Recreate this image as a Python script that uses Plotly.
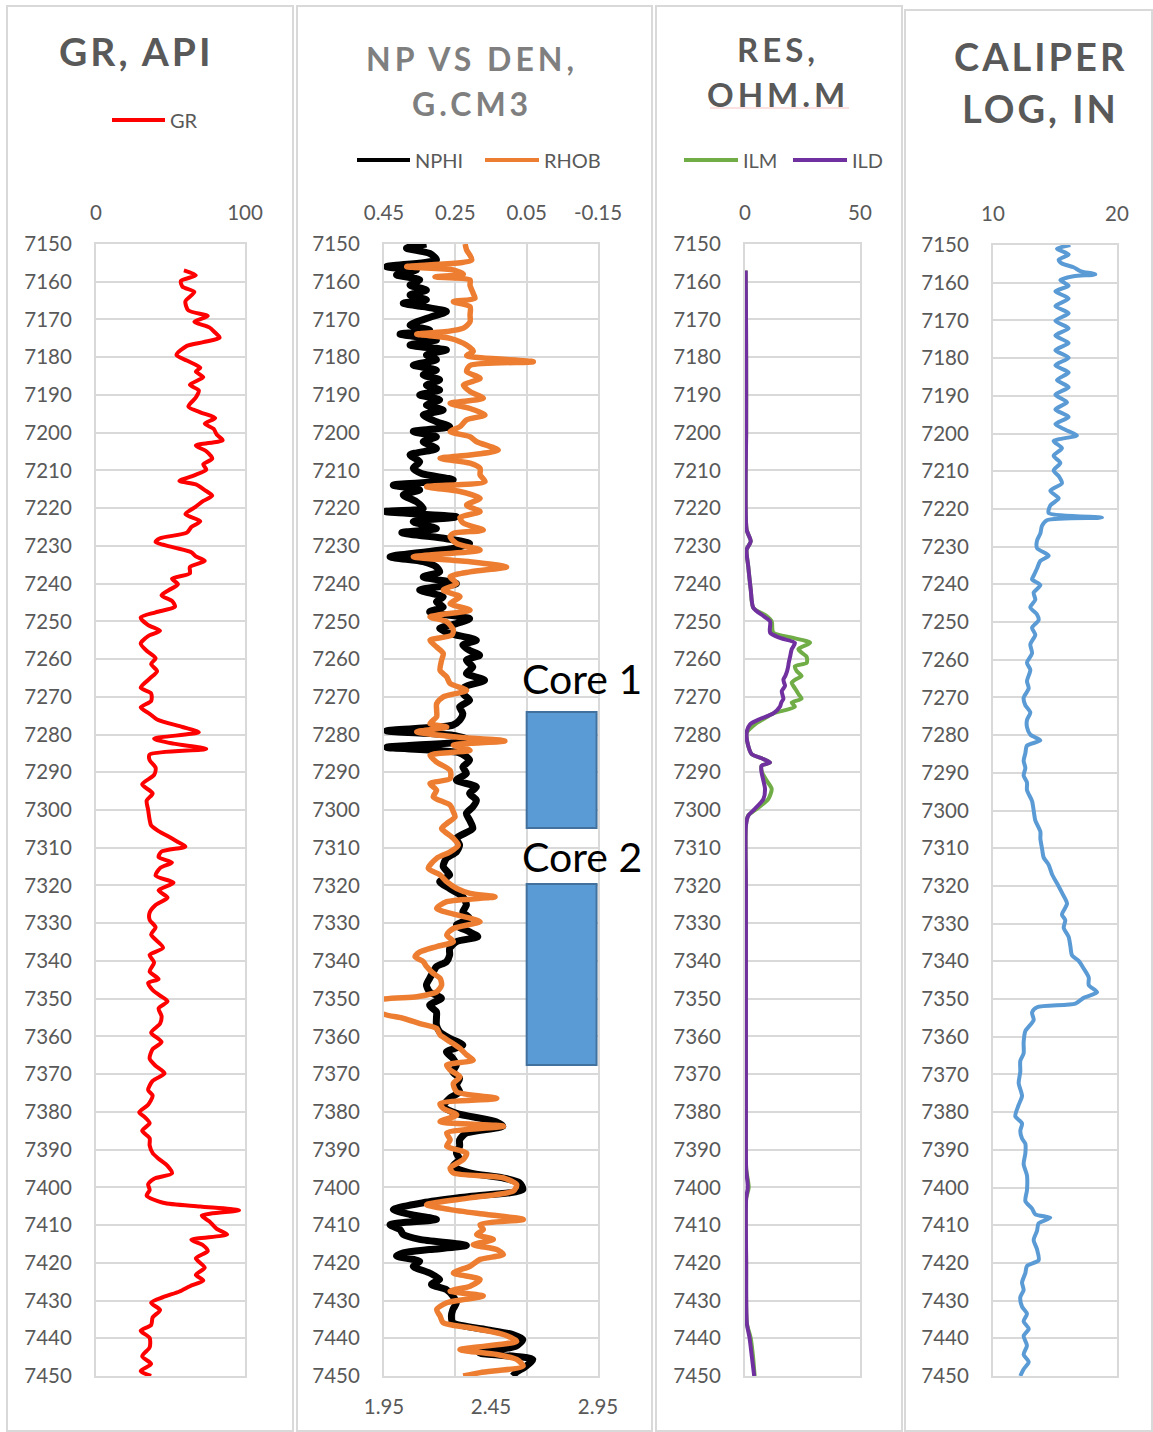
import plotly.graph_objects as go

# ---------------- log data: (depth ft, value) ----------------
gr_log = [
    (7157.0, 59), (7158.3, 67), (7159.8, 57), (7161.3, 58), (7162.7, 66), (7165.2, 60), (7167.6, 62),
    (7169.1, 75), (7170.6, 66), (7172.1, 76), (7173.5, 80), (7174.8, 83), (7176.0, 72), (7177.0, 61),
    (7179.4, 54), (7180.9, 61), (7182.8, 70), (7183.8, 67), (7185.3, 72), (7187.3, 63), (7188.8, 69),
    (7190.7, 67), (7193.1, 62), (7194.6, 70), (7196.1, 80), (7197.6, 73), (7199.0, 79), (7200.5, 81),
    (7202.0, 85), (7203.4, 67), (7204.9, 74), (7206.9, 78), (7208.4, 72), (7209.8, 74), (7211.3, 66),
    (7212.8, 56), (7213.7, 67), (7215.2, 73), (7216.7, 78), (7218.1, 72), (7219.6, 67), (7221.6, 60),
    (7223.5, 70), (7225.0, 64), (7226.5, 61), (7228.0, 43), (7229.0, 40), (7230.4, 52), (7231.7, 64),
    (7232.8, 67), (7234.0, 73), (7235.6, 63), (7237.3, 63), (7238.7, 51), (7240.2, 55), (7241.7, 49),
    (7243.1, 44), (7244.6, 51), (7246.1, 53), (7247.6, 40), (7249.0, 30), (7251.0, 35), (7252.5, 43),
    (7253.9, 35), (7255.9, 30), (7257.8, 34), (7259.8, 40), (7261.3, 37), (7263.2, 41), (7265.2, 36),
    (7267.6, 30), (7269.1, 37), (7271.1, 37), (7272.8, 30), (7274.5, 36), (7276.0, 41), (7278.0, 58),
    (7279.4, 69), (7281.1, 39), (7282.4, 52), (7283.8, 74), (7285.3, 36), (7286.8, 36), (7288.8, 40),
    (7290.7, 39), (7293.2, 31), (7295.6, 38), (7297.5, 34), (7300.0, 35),
    (7302.6, 36), (7304.1, 37), (7305.6, 42), (7307.1, 49), (7308.5, 55), (7309.7, 60), (7311.0, 44),
    (7312.5, 42), (7313.9, 51), (7315.4, 43), (7317.4, 40), (7319.3, 52), (7321.3, 42), (7323.2, 48),
    (7325.2, 40), (7327.2, 36), (7329.1, 36), (7331.1, 40), (7333.0, 37), (7336.5, 45), (7338.4, 36),
    (7340.4, 39), (7342.8, 36), (7344.8, 42), (7345.8, 35), (7347.7, 38), (7349.2, 43), (7350.7, 48),
    (7352.6, 42), (7354.6, 44), (7356.6, 43), (7359.0, 37), (7361.5, 44), (7363.4, 38), (7365.9, 36),
    (7367.8, 40), (7369.8, 46), (7371.8, 38), (7374.2, 35), (7375.7, 38), (7378.1, 35), (7380.1, 29),
    (7381.5, 33), (7383.0, 36), (7385.0, 31), (7387.0, 36), (7388.9, 36), (7390.9, 38), (7392.4, 42),
    (7394.3, 48), (7396.3, 51), (7397.7, 39), (7399.2, 35), (7400.7, 36), (7402.2, 34), (7404.1, 45),
    (7405.1, 70), (7406.1, 96), (7407.5, 71), (7409.0, 76), (7411.0, 81), (7412.5, 88), (7413.9, 64),
    (7415.4, 72), (7416.9, 75), (7418.8, 67), (7421.3, 73), (7423.2, 67), (7424.7, 72), (7426.2, 63),
    (7427.6, 56), (7429.1, 45), (7430.6, 37), (7432.5, 43), (7434.5, 38), (7436.5, 37), (7438.0, 30),
    (7439.9, 36), (7442.4, 36), (7444.8, 31), (7446.8, 37), (7448.7, 30), (7450.0, 37),
]

nphi_log = [
    (7150.0, 0.331), (7151.1, 0.387), (7152.5, 0.322), (7154.2, 0.303), (7156.0, 0.443), (7156.9, 0.359),
    (7158.2, 0.415), (7159.5, 0.350), (7160.9, 0.377), (7162.2, 0.331), (7163.5, 0.377), (7164.8, 0.331),
    (7165.7, 0.396), (7166.6, 0.340), (7167.9, 0.275), (7169.3, 0.317), (7171.5, 0.377), (7172.8, 0.322),
    (7173.9, 0.405), (7175.4, 0.303), (7176.8, 0.377), (7178.1, 0.275), (7179.4, 0.331), (7180.7, 0.303),
    (7182.1, 0.368), (7183.4, 0.303), (7184.7, 0.340), (7186.0, 0.294), (7187.4, 0.331), (7188.7, 0.294),
    (7190.0, 0.350), (7191.3, 0.294), (7192.7, 0.331), (7194.0, 0.284), (7195.3, 0.340), (7197.1, 0.303),
    (7198.4, 0.266), (7199.7, 0.368), (7201.1, 0.303), (7202.4, 0.340), (7204.2, 0.303), (7205.9, 0.377),
    (7207.7, 0.350), (7209.4, 0.368), (7210.8, 0.345), (7212.5, 0.256), (7213.9, 0.424), (7215.2, 0.350),
    (7216.5, 0.396), (7218.3, 0.359), (7220.1, 0.340), (7220.9, 0.447), (7222.3, 0.247), (7223.6, 0.368),
    (7225.4, 0.303), (7226.5, 0.400), (7228.1, 0.275), (7229.4, 0.210), (7230.7, 0.257), (7232.9, 0.433),
    (7234.2, 0.340), (7235.6, 0.303), (7236.9, 0.294), (7238.2, 0.340), (7240.0, 0.247), (7241.7, 0.350),
    (7243.5, 0.284), (7244.8, 0.303), (7246.2, 0.284), (7247.5, 0.322), (7249.3, 0.210), (7250.6, 0.247),
    (7251.9, 0.294), (7253.2, 0.266), (7255.0, 0.191), (7256.3, 0.229), (7257.7, 0.210), (7259.0, 0.182),
    (7260.3, 0.219), (7262.1, 0.201), (7263.8, 0.219), (7265.6, 0.168), (7267.4, 0.224), (7269.1, 0.229),
    (7270.9, 0.210), (7272.7, 0.238), (7274.4, 0.229), (7276.2, 0.238), (7277.5, 0.257), (7279.0, 0.443),
    (7280.3, 0.250), (7281.6, 0.210), (7283.4, 0.443), (7284.8, 0.240), (7286.8, 0.210), (7288.6, 0.229),
    (7290.3, 0.219), (7292.1, 0.247), (7293.9, 0.191), (7295.6, 0.210), (7297.4, 0.191), (7299.2, 0.201),
    (7300.9, 0.219), (7302.7, 0.210), (7304.9, 0.201), (7307.5, 0.247), (7309.3, 0.238), (7311.1, 0.247),
    (7312.8, 0.275), (7315.0, 0.284), (7317.2, 0.266), (7319.0, 0.294), (7320.8, 0.266), (7323.0, 0.229),
    (7325.2, 0.219), (7327.0, 0.229), (7328.7, 0.210), (7330.5, 0.247), (7332.3, 0.210), (7333.6, 0.187),
    (7334.9, 0.247), (7336.7, 0.266), (7338.4, 0.266), (7340.2, 0.275), (7341.5, 0.303), (7342.9, 0.312),
    (7344.6, 0.322), (7346.4, 0.331), (7348.2, 0.322), (7349.9, 0.289), (7351.7, 0.322), (7353.5, 0.303),
    (7355.2, 0.303), (7357.0, 0.303), (7358.8, 0.294), (7360.5, 0.266), (7362.3, 0.229), (7364.1, 0.275),
    (7365.8, 0.257), (7367.6, 0.247), (7369.4, 0.257), (7371.1, 0.238), (7372.9, 0.247), (7374.7, 0.238),
    (7376.4, 0.266), (7378.6, 0.284), (7380.4, 0.247), (7382.6, 0.136), (7383.8, 0.117), (7385.6, 0.219),
    (7387.4, 0.238), (7389.1, 0.238), (7390.9, 0.247), (7392.6, 0.238), (7394.4, 0.257), (7396.2, 0.210),
    (7397.5, 0.117), (7398.8, 0.070), (7400.6, 0.061), (7402.4, 0.210), (7404.1, 0.340), (7405.9, 0.424),
    (7407.2, 0.377), (7408.5, 0.303), (7409.9, 0.433), (7411.2, 0.405), (7412.5, 0.396), (7413.8, 0.350),
    (7415.4, 0.219), (7416.5, 0.322), (7417.4, 0.396), (7418.2, 0.415), (7419.6, 0.350), (7420.9, 0.368),
    (7422.7, 0.322), (7424.4, 0.294), (7425.7, 0.317), (7427.1, 0.275), (7428.8, 0.257), (7430.6, 0.247),
    (7432.4, 0.257), (7434.1, 0.261), (7435.9, 0.257), (7437.7, 0.163), (7439.0, 0.089), (7440.3, 0.061),
    (7442.1, 0.080), (7443.9, 0.182), (7445.6, 0.033), (7447.4, 0.052), (7449.1, 0.080), (7450.0, 0.089),
]

rhob_log = [
    (7150.0, 2.329), (7151.6, 2.336), (7154.2, 2.360), (7156.0, 2.056), (7156.9, 2.274), (7158.0, 2.321),
    (7158.7, 2.188), (7159.5, 2.352), (7160.9, 2.352), (7163.1, 2.367), (7164.4, 2.375), (7165.3, 2.274),
    (7166.6, 2.352), (7168.8, 2.352), (7170.6, 2.352), (7172.3, 2.321), (7173.2, 2.243), (7173.9, 2.103),
    (7175.0, 2.259), (7176.8, 2.336), (7178.5, 2.367), (7179.6, 2.336), (7181.2, 2.648), (7182.2, 2.352),
    (7183.8, 2.336), (7185.6, 2.399), (7187.4, 2.321), (7189.1, 2.352), (7190.9, 2.414), (7192.2, 2.259),
    (7193.6, 2.352), (7195.3, 2.422), (7196.6, 2.336), (7198.4, 2.305), (7199.7, 2.259), (7201.1, 2.352),
    (7202.4, 2.383), (7204.6, 2.484), (7205.9, 2.352), (7206.8, 2.212), (7208.1, 2.352), (7209.5, 2.399),
    (7211.2, 2.399), (7213.0, 2.422), (7214.3, 2.149), (7215.6, 2.305), (7217.4, 2.399), (7219.2, 2.336),
    (7220.9, 2.399), (7222.5, 2.305), (7224.0, 2.321), (7225.8, 2.414), (7226.7, 2.274), (7227.6, 2.259),
    (7229.4, 2.290), (7231.1, 2.399), (7232.9, 2.087), (7234.2, 2.352), (7235.6, 2.523), (7236.9, 2.352),
    (7238.2, 2.259), (7240.0, 2.290), (7241.7, 2.227), (7243.5, 2.305), (7245.3, 2.259), (7247.0, 2.352),
    (7248.8, 2.165), (7250.1, 2.243), (7252.3, 2.274), (7253.7, 2.266), (7255.0, 2.165), (7256.8, 2.196),
    (7258.5, 2.227), (7260.3, 2.219), (7263.0, 2.212), (7264.7, 2.243), (7266.5, 2.259), (7268.3, 2.336),
    (7270.0, 2.227), (7271.8, 2.196), (7273.6, 2.196), (7275.3, 2.196), (7277.1, 2.165), (7278.0, 2.243),
    (7279.3, 2.103), (7280.6, 2.274), (7281.7, 2.515), (7282.8, 2.274), (7284.2, 2.352), (7285.5, 2.165),
    (7287.3, 2.196), (7289.5, 2.259), (7291.7, 2.259), (7293.0, 2.165), (7294.8, 2.196), (7296.5, 2.180),
    (7298.7, 2.259), (7300.5, 2.274), (7301.8, 2.282), (7303.6, 2.243), (7304.9, 2.219), (7305.8, 2.235),
    (7307.5, 2.274), (7309.3, 2.297), (7311.1, 2.259), (7312.8, 2.196), (7315.5, 2.157), (7317.2, 2.212),
    (7319.0, 2.243), (7320.8, 2.290), (7322.1, 2.352), (7323.0, 2.469), (7324.3, 2.243), (7326.1, 2.196),
    (7327.8, 2.290), (7329.6, 2.399), (7331.4, 2.274), (7333.1, 2.243), (7334.9, 2.274), (7336.2, 2.196),
    (7337.6, 2.118), (7338.9, 2.095), (7340.2, 2.134), (7341.5, 2.149), (7343.3, 2.180), (7344.6, 2.212),
    (7346.4, 2.219), (7348.2, 2.196), (7349.5, 2.103), (7350.4, 1.930), (7352.1, 1.920), (7353.9, 1.940),
    (7355.2, 2.040), (7356.6, 2.118), (7357.9, 2.196), (7359.6, 2.212), (7361.4, 2.259), (7363.2, 2.305),
    (7364.9, 2.336), (7366.3, 2.367), (7367.6, 2.243), (7368.9, 2.259), (7370.7, 2.305), (7372.5, 2.274),
    (7374.7, 2.290), (7376.4, 2.477), (7377.8, 2.212), (7379.1, 2.227), (7380.8, 2.290), (7382.6, 2.212),
    (7383.8, 2.508), (7385.6, 2.243), (7387.4, 2.259), (7389.1, 2.243), (7390.9, 2.336), (7392.6, 2.321),
    (7394.9, 2.259), (7396.2, 2.274), (7397.5, 2.508), (7399.3, 2.570), (7401.0, 2.554), (7402.8, 2.352),
    (7404.6, 2.149), (7405.9, 2.259), (7407.2, 2.430), (7408.5, 2.601), (7409.9, 2.399), (7411.2, 2.414),
    (7412.5, 2.383), (7413.8, 2.461), (7415.2, 2.367), (7416.5, 2.477), (7417.8, 2.508), (7419.1, 2.399),
    (7420.9, 2.352), (7422.7, 2.274), (7424.4, 2.399), (7426.2, 2.352), (7427.5, 2.259), (7428.8, 2.414),
    (7430.6, 2.243), (7432.4, 2.196), (7434.1, 2.212), (7435.9, 2.227), (7437.2, 2.352), (7439.0, 2.508),
    (7440.8, 2.570), (7443.0, 2.305), (7444.3, 2.477), (7445.6, 2.570), (7447.4, 2.600), (7449.1, 2.400),
    (7450.0, 2.320),
]

res_depth = [7157.0, 7165.0, 7180.0, 7200.0, 7212.5, 7225.7, 7228.8, 7231.0, 7235.4, 7241.6, 7246.4,
             7248.6, 7250.0, 7253.0, 7254.4, 7255.7, 7257.4, 7259.4, 7261.0, 7261.9, 7263.2, 7264.5,
             7265.4, 7266.3, 7267.1, 7268.5, 7269.5, 7270.5, 7271.5, 7272.6, 7274.4, 7275.9, 7277.3,
             7279.5, 7283.0, 7285.2, 7286.5, 7287.4, 7288.3, 7290.0, 7292.2, 7294.4, 7297.1, 7299.7,
             7301.5, 7304.1, 7320.0, 7350.0, 7380.0, 7395.0, 7400.0, 7403.0, 7420.0, 7436.0, 7440.0,
             7445.0, 7450.0]
ild = [0.3, 0.4, 0.5, 0.5, 0.3, 0.7, 2.5, 0.7, 1.4, 2.5, 3.6,
       8.0, 10.9, 10.9, 15.2, 21.7, 20.3, 19.6, 19.0, 18.8, 18.3, 17.5,
       16.7, 17.0, 17.4, 16.0, 16.3, 16.7, 15.8, 15.2, 12.3, 6.5, 2.2,
       0.7, 1.4, 2.9, 8.0, 10.9, 7.2, 7.2, 8.0, 8.7, 8.0, 4.3,
       1.4, 0.4, 0.4, 0.4, 0.4, 0.5, 1.2, 0.5, 0.5, 0.8, 2.0,
       3.0, 4.0]
ilm = [0.3, 0.4, 0.5, 0.5, 0.3, 0.7, 2.5, 0.7, 1.4, 2.5, 3.6,
       9.4, 11.6, 12.3, 21.0, 28.3, 23.2, 26.8, 26.8, 21.7, 22.5, 24.6,
       22.0, 20.3, 21.0, 22.5, 23.5, 24.6, 20.3, 21.7, 12.3, 8.0, 4.3,
       0.8, 1.4, 2.9, 8.0, 10.9, 7.2, 7.4, 9.4, 11.6, 10.1, 5.1,
       1.4, 0.4, 0.4, 0.4, 0.4, 0.5, 1.6, 0.5, 0.5, 0.8, 2.5,
       3.5, 4.2]

cal_log = [
    (7150.0, 16.24), (7151.0, 15.16), (7152.5, 16.10), (7153.9, 15.30), (7154.9, 15.56), (7155.9, 16.50),
    (7156.9, 17.04), (7157.8, 18.25), (7158.3, 16.50), (7159.3, 15.43), (7160.8, 16.10), (7162.3, 15.03),
    (7164.2, 16.10), (7166.2, 15.03), (7168.1, 16.10), (7170.1, 15.03), (7172.1, 16.10), (7174.0, 15.03),
    (7176.0, 16.10), (7177.9, 15.03), (7179.9, 16.10), (7181.9, 15.03), (7183.8, 16.10), (7185.8, 15.16),
    (7187.7, 16.10), (7189.7, 15.03), (7191.7, 15.97), (7193.6, 15.03), (7195.6, 16.10), (7197.5, 15.03),
    (7199.0, 15.83), (7200.5, 16.77), (7202.0, 14.89), (7203.9, 15.56), (7205.9, 14.89), (7207.8, 15.43),
    (7209.8, 14.89), (7211.3, 15.30), (7213.2, 15.56), (7215.2, 14.62), (7217.2, 15.30), (7219.1, 14.62),
    (7221.1, 14.49), (7222.3, 18.79), (7223.0, 14.35), (7224.5, 13.95), (7226.5, 13.82), (7228.4, 13.55),
    (7230.4, 13.55), (7232.4, 14.49), (7233.8, 13.82), (7235.8, 13.55), (7237.7, 13.28), (7238.7, 13.15),
    (7240.2, 13.82), (7242.2, 13.28), (7244.1, 13.41), (7246.1, 13.01), (7248.0, 13.55), (7249.5, 13.68),
    (7251.5, 13.15), (7253.4, 13.41), (7255.9, 13.01), (7258.3, 13.15), (7260.8, 12.74), (7262.7, 13.01),
    (7265.7, 12.74), (7267.6, 12.88), (7270.1, 12.47), (7272.1, 12.61), (7274.0, 13.01), (7276.0, 12.74),
    (7277.9, 12.74), (7279.9, 13.01), (7281.4, 13.82), (7282.8, 12.74), (7284.8, 12.61), (7286.8, 12.47),
    (7288.7, 12.61), (7290.7, 12.47), (7292.6, 12.74), (7294.6, 12.74), (7297.5, 13.15), (7300.0, 13.28),
    (7302.6, 13.41), (7305.6, 13.82), (7307.5, 13.82), (7310.0, 13.95), (7312.5, 14.09), (7314.4, 14.49),
    (7316.9, 14.76), (7319.3, 15.16), (7321.8, 15.56), (7324.7, 15.97), (7327.6, 15.56), (7329.1, 15.83),
    (7331.1, 15.70), (7333.5, 16.10), (7336.0, 16.24), (7338.4, 16.37), (7339.9, 16.91), (7341.9, 17.31),
    (7344.3, 17.72), (7346.3, 17.72), (7348.2, 18.39), (7349.7, 17.31), (7351.2, 16.64), (7352.2, 13.55),
    (7353.6, 13.15), (7355.6, 13.28), (7358.5, 12.61), (7361.5, 12.47), (7364.4, 12.47), (7366.4, 12.20),
    (7369.3, 12.20), (7372.3, 12.07), (7375.7, 12.34), (7378.1, 12.07), (7381.1, 11.80), (7383.0, 12.34),
    (7385.0, 12.20), (7387.0, 12.34), (7388.4, 12.61), (7390.9, 12.61), (7393.8, 12.47), (7396.8, 12.74),
    (7400.7, 12.74), (7403.6, 12.61), (7405.6, 13.15), (7407.1, 13.41), (7408.0, 14.62), (7409.5, 13.68),
    (7411.5, 13.55), (7413.9, 13.28), (7416.4, 13.55), (7419.3, 13.68), (7420.8, 12.74), (7422.7, 12.61),
    (7425.2, 12.34), (7427.2, 12.47), (7429.1, 12.20), (7431.6, 12.34), (7433.5, 12.74), (7435.5, 12.47),
    (7437.5, 12.88), (7439.4, 12.47), (7441.9, 12.74), (7444.3, 12.47), (7446.3, 12.88), (7448.2, 12.47),
    (7450.0, 12.20),
]

# cored intervals (top, base, ft)
core_names = ["Core 1", "Core 2"]
core_top = [7274.0, 7319.6]
core_base = [7304.8, 7367.6]

# axis tick labels
gr_ticks = [0, 100]
nphi_ticks = [0.45, 0.25, 0.05, -0.15]
nphi_labels = ["0.45", "0.25", "0.05", "-0.15"]
rhob_ticks = [1.95, 2.45, 2.95]
res_ticks = [0, 50]
cal_ticks = [10, 20]

# ---------------- page geometry (pixels) ----------------
W, H = 1153, 1432
FONT = "Lato, 'Open Sans', sans-serif"
TXT = "#595959"
GRID = "#d9d9d9"


def fx(px):
    return px / W


def fy(py):
    return 1 - py / H


def xdom(left, right):
    return [fx(left), fx(right)]


def ydom(top, bottom):
    return [fy(bottom), fy(top)]


def unzip(pairs):
    return [p[0] for p in pairs], [p[1] for p in pairs]


gr_depth, gr = unzip(gr_log)
nphi_depth, nphi = unzip(nphi_log)
rhob_depth, rhob = unzip(rhob_log)
cal_depth, cal = unzip(cal_log)

fig = go.Figure()


def curve(x, y, color, width, xa, ya):
    fig.add_trace(go.Scatter(
        x=x, y=y, mode="lines", xaxis=xa, yaxis=ya, showlegend=False, hoverinfo="skip",
        line=dict(color=color, width=width, shape="spline", smoothing=0.7),
    ))


curve(gr, gr_depth, "#FF0000", 4, "x", "y")
curve(nphi, nphi_depth, "#000000", 7, "x2", "y2")
curve(rhob, rhob_depth, "#ED7D31", 5.5, "x5", "y2")
curve(ilm, res_depth, "#70AD47", 4, "x3", "y3")
curve(ild, res_depth, "#7030A0", 4, "x3", "y3")
curve(cal, cal_depth, "#5B9BD5", 4, "x4", "y4")

tickfont = dict(family=FONT, size=20.5, color=TXT)


def depth_axis(anchor, top, bottom):
    return dict(
        domain=ydom(top, bottom), anchor=anchor, range=[7450, 7150], automargin=False,
        tickmode="linear", tick0=7150, dtick=10,
        showgrid=True, gridcolor=GRID, gridwidth=2, zeroline=False,
        showline=True, linecolor=GRID, linewidth=2, mirror=True,
        ticks="outside", ticklen=18, tickcolor="rgba(0,0,0,0)", tickfont=tickfont,
    )


def top_axis(anchor, left, right, rng, vals, text=None):
    d = dict(
        domain=xdom(left, right), anchor=anchor, side="top", range=rng, automargin=False,
        tickmode="array", tickvals=vals,
        showgrid=True, gridcolor=GRID, gridwidth=2, zeroline=False,
        showline=True, linecolor=GRID, linewidth=2, mirror=True,
        ticks="outside", ticklen=14, tickcolor="rgba(0,0,0,0)", tickfont=tickfont,
    )
    if text is not None:
        d["ticktext"] = text
    return d


fig.update_layout(
    width=W, height=H, margin=dict(l=0, r=0, t=0, b=0, pad=0, autoexpand=False),
    paper_bgcolor="white", plot_bgcolor="white", showlegend=False,
    xaxis=top_axis("y", 96, 245, [0, 100], gr_ticks),
    yaxis=depth_axis("x", 244, 1376),
    xaxis2=top_axis("y2", 384, 598, [0.45, -0.15], nphi_ticks, nphi_labels),
    yaxis2=depth_axis("x2", 244, 1376),
    xaxis3=top_axis("y3", 745, 860, [0, 50], res_ticks),
    yaxis3=depth_axis("x3", 244, 1376),
    xaxis4=top_axis("y4", 993, 1117, [10, 20], cal_ticks),
    yaxis4=depth_axis("x4", 245, 1376),
    xaxis5=dict(
        overlaying="x2", anchor="y2", side="bottom", range=[1.95, 2.95], automargin=False,
        tickmode="array", tickvals=rhob_ticks, showgrid=False, zeroline=False, showline=False,
        ticks="outside", ticklen=12, tickcolor="rgba(0,0,0,0)", tickfont=tickfont,
    ),
)

shapes = []
# chart-area frames
for l, t, r in [(7, 6, 293), (297, 6, 652), (656, 6, 902), (905, 10, 1152)]:
    shapes.append(dict(type="rect", xref="paper", yref="paper", x0=fx(l), x1=fx(r), y0=fy(t), y1=fy(1431),
                       line=dict(color=GRID, width=2), fillcolor="rgba(0,0,0,0)", layer="below"))

# core intervals
for top, base in zip(core_top, core_base):
    shapes.append(dict(type="rect", xref="x2", yref="y2", x0=0.05, x1=-0.146, y0=top, y1=base,
                       fillcolor="#5B9BD5", line=dict(color="#41719C", width=2), layer="above"))

# legend keys
legend_keys = [
    ("GR", "#FF0000", 112, 165, 120),
    ("NPHI", "#000000", 357, 410, 160),
    ("RHOB", "#ED7D31", 485, 539, 160),
    ("ILM", "#70AD47", 684, 738, 160),
    ("ILD", "#7030A0", 793, 847, 160),
]
annotations = []
for name, color, x0, x1, yy in legend_keys:
    shapes.append(dict(type="line", xref="paper", yref="paper", x0=fx(x0), x1=fx(x1), y0=fy(yy), y1=fy(yy),
                       line=dict(color=color, width=4)))
    annotations.append(dict(xref="paper", yref="paper", x=fx(x1 + 3), y=fy(yy), xanchor="left", yanchor="middle",
                            text=name, showarrow=False, font=dict(family=FONT, size=20, color=TXT)))

# spell-check underline under the resistivity unit
shapes.append(dict(type="line", xref="paper", yref="paper", x0=fx(710), x1=fx(849), y0=fy(108), y1=fy(108),
                   line=dict(color="#f7c4c4", width=1.2)))

# track titles
titles = [
    ("GR, API", 136, 51, 39, TXT, 3),
    ("NP VS DEN,", 472, 58, 32, "#7f7f7f", 4),
    ("G.CM3", 472, 104, 32, "#7f7f7f", 4),
    ("RES,", 778, 49, 33, TXT, 4),
    ("OHM.M", 778, 94, 33, TXT, 4),
    ("CALIPER", 1040, 56, 38, TXT, 3),
    ("LOG, IN", 1040, 108, 38, TXT, 3),
]
for text, cx, cy, size, color, sp in titles:
    annotations.append(dict(xref="paper", yref="paper", x=fx(cx), y=fy(cy), xanchor="center", yanchor="middle",
                            text=f'<span style="letter-spacing:{sp}px">{text}</span>', showarrow=False,
                            font=dict(family=FONT, size=size, color=color, weight="bold")))

# core labels
for name, cy in zip(core_names, [678, 856]):
    annotations.append(dict(xref="paper", yref="paper", x=fx(582), y=fy(cy), xanchor="center", yanchor="middle",
                            text=name, showarrow=False, font=dict(family=FONT, size=41, color="#000000")))

fig.update_layout(shapes=shapes, annotations=annotations)

fig.write_html("out.html")
